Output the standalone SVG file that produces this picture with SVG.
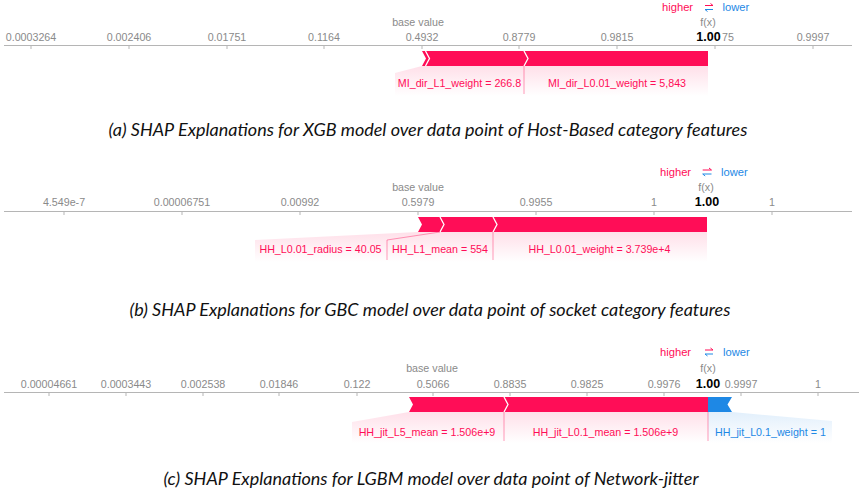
<svg xmlns="http://www.w3.org/2000/svg" width="859" height="494" viewBox="0 0 859 494">
<defs>
<linearGradient id="gr" x1="0" y1="0" x2="0" y2="1"><stop offset="0" stop-color="#ff0d57" stop-opacity="0.13"/><stop offset="1" stop-color="#ff0d57" stop-opacity="0"/></linearGradient>
<linearGradient id="gb" x1="0" y1="0" x2="0" y2="1"><stop offset="0" stop-color="#1e88e5" stop-opacity="0.13"/><stop offset="1" stop-color="#1e88e5" stop-opacity="0"/></linearGradient>
</defs>
<style>
text{font-family:"Liberation Sans",Arial,sans-serif}
.tk{font-size:10.7px;fill:#8a8a8a;text-anchor:middle}
.bv{font-size:10.7px;fill:#8a8a8a;text-anchor:middle}
.fx{font-size:12.5px;font-weight:bold;fill:#000;text-anchor:middle}
.hi{font-size:11.2px;fill:#ff0d57}
.lo{font-size:11.2px;fill:#1e88e5}
.ax{stroke:#b5b5b5;stroke-width:1;fill:none}
.red{fill:#ff0d57}
.blue{fill:#1e88e5}
.sep{stroke:#fff;stroke-width:1.3;fill:none}
.bgr{fill:url(#gr)}
.bgb{fill:url(#gb)}
.ln{stroke:#ff0d57;stroke-opacity:0.4;stroke-width:1;fill:none}
.lr{font-size:10.7px;fill:#ff0d57;text-anchor:middle}
.lb{font-size:10.7px;fill:#1e88e5;text-anchor:middle}
.ir{stroke:#ff0d57;stroke-width:1;fill:none}
.ib{stroke:#1e88e5;stroke-width:1;fill:none}
.cap{font-family:Lato,"Open Sans",sans-serif;font-style:italic;font-size:18px;fill:#111;text-anchor:middle}
</style>

<!-- Panel (a) -->
<g id="panel-a">
  <text class="hi" x="662" y="11">higher</text>
  <path class="ir" d="M705,5.5 H713 M710.5,3.5 L713,5.5"/>
  <path class="ib" d="M713,9.5 H705 M707.5,11.5 L705,9.5"/>
  <text class="lo" x="722.5" y="11">lower</text>
  <text class="bv" x="418" y="26">base value</text>
  <text class="bv" x="708" y="26">f(x)</text>
  <path class="ax" d="M4,45.5 H852 M31,45 V49 M129,45 V49 M227,45 V49 M324,45 V49 M422,45 V49 M519,45 V49 M617,45 V49 M715,45 V49 M813,45 V49"/>
  <text class="tk" x="31" y="41">0.0003264</text>
  <text class="tk" x="129" y="41">0.002406</text>
  <text class="tk" x="227" y="41">0.01751</text>
  <text class="tk" x="324" y="41">0.1164</text>
  <text class="tk" x="422" y="41">0.4932</text>
  <text class="tk" x="519" y="41">0.8779</text>
  <text class="tk" x="617" y="41">0.9815</text>
  <text class="tk" x="722" y="41" text-anchor="start" style="text-anchor:start">75</text>
  <text class="tk" x="813" y="41">0.9997</text>
  <text class="fx" x="708.5" y="40.7">1.00</text>
</g>
<g id="node-a1">
  <path class="bgr" d="M422,66 L524,66 L524,96 L395,96 L395,73 Z"/>
  <text class="lr" x="459.5" y="87">MI_dir_L1_weight = 266.8</text>
</g>
<g id="node-a2">
  <path class="bgr" d="M524,66 L708,66 L708,96 L524,96 Z"/>
  <text class="lr" x="617" y="87">MI_dir_L0.01_weight = 5,843</text>
</g>
<g id="bar-a">
  <path class="red" d="M422,51 L708,51 L708,66 L422,66 L426,58.5 Z"/>
  <path class="sep" d="M425.5,51 L429.5,58.5 L425.5,66 M524,51 L528,58.5 L524,66"/>
</g>

<!-- Panel (b) -->
<g id="panel-b">
  <text class="hi" x="660" y="176">higher</text>
  <path class="ir" d="M702.7,170 H711.5 M709,168 L711.5,170"/>
  <path class="ib" d="M711.5,174 H702.7 M705.2,176 L702.7,174"/>
  <text class="lo" x="721" y="176">lower</text>
  <text class="bv" x="418" y="191">base value</text>
  <text class="bv" x="706" y="191">f(x)</text>
  <path class="ax" d="M4,211.5 H852 M64,211 V215 M182,211 V215 M300,211 V215 M418,211 V215 M536,211 V215 M654,211 V215 M772,211 V215"/>
  <text class="tk" x="64" y="206">4.549e-7</text>
  <text class="tk" x="182" y="206">0.00006751</text>
  <text class="tk" x="300" y="206">0.00992</text>
  <text class="tk" x="418" y="206">0.5979</text>
  <text class="tk" x="536" y="206">0.9955</text>
  <text class="tk" x="654" y="206">1</text>
  <text class="tk" x="772" y="206">1</text>
  <text class="fx" x="707" y="206">1.00</text>
</g>
<g id="node-b1">
  <path class="bgr" d="M418,232 L440,232 L387,240 L387,262 L255,262 L255,240 Z"/>
  <text class="lr" x="320.5" y="253">HH_L0.01_radius = 40.05</text>
</g>
<g id="node-b2">
  <path class="bgr" d="M440,232 L493,232 L493,262 L387,262 L387,240 Z"/>
  <text class="lr" x="440" y="253">HH_L1_mean = 554</text>
</g>
<g id="node-b3">
  <path class="bgr" d="M493,232 L707,232 L707,262 L493,262 Z"/>
  <text class="lr" x="599.5" y="253">HH_L0.01_weight = 3.739e+4</text>
</g>
<g id="bar-b">
  <path class="red" d="M418,217 L707,217 L707,232 L418,232 L422,224.5 Z"/>
  <path class="sep" d="M440,217 L444,224.5 L440,232 M493,217 L497,224.5 L493,232"/>
</g>

<!-- Panel (c) -->
<g id="panel-c">
  <text class="hi" x="660" y="356">higher</text>
  <path class="ir" d="M705,350 H713 M710.5,348 L713,350"/>
  <path class="ib" d="M713,354 H705 M707.5,356 L705,354"/>
  <text class="lo" x="723" y="356">lower</text>
  <text class="bv" x="432" y="371.5">base value</text>
  <text class="bv" x="708" y="371.5">f(x)</text>
  <path class="ax" d="M4,392.5 H859 M49,392 V396 M126,392 V396 M203,392 V396 M279,392 V396 M357,392 V396 M433,392 V396 M510,392 V396 M587,392 V396 M664,392 V396 M741,392 V396 M818,392 V396"/>
  <text class="tk" x="49" y="387.5">0.00004661</text>
  <text class="tk" x="126" y="387.5">0.0003443</text>
  <text class="tk" x="203" y="387.5">0.002538</text>
  <text class="tk" x="279" y="387.5">0.01846</text>
  <text class="tk" x="357" y="387.5">0.122</text>
  <text class="tk" x="433" y="387.5">0.5066</text>
  <text class="tk" x="510" y="387.5">0.8835</text>
  <text class="tk" x="587" y="387.5">0.9825</text>
  <text class="tk" x="664" y="387.5">0.9976</text>
  <text class="tk" x="741" y="387.5">0.9997</text>
  <text class="tk" x="818" y="387.5">1</text>
  <text class="fx" x="708" y="387.5">1.00</text>
</g>
<g id="node-c1">
  <path class="bgr" d="M409,412 L504,412 L504,443 L352,443 L352,422 Z"/>
  <text class="lr" x="427" y="436">HH_jit_L5_mean = 1.506e+9</text>
</g>
<g id="node-c2">
  <path class="bgr" d="M504,412 L708,412 L708,443 L504,443 Z"/>
  <text class="lr" x="605.5" y="436">HH_jit_L0.1_mean = 1.506e+9</text>
</g>
<g id="node-c3">
  <path class="bgb" d="M708,412 L732,412 L832,421 L832,443 L708,443 Z"/>
  <text class="lb" x="770.5" y="436">HH_jit_L0.1_weight = 1</text>
</g>
<g id="bar-c">
  <path class="red" d="M409,397 L708,397 L708,412 L409,412 L413,404.5 Z"/>
  <path class="blue" d="M708,397 L732,397 L727.5,404.5 L732,412 L708,412 Z"/>
  <path class="sep" d="M504,397 L508,404.5 L504,412"/>
</g>

<g id="connectors">
  <path class="ln" d="M524,66 V94"/>
  <path class="ln" d="M440,232 L387,240 V260 M493,232 V260"/>
  <path class="ln" d="M504,412 V441 M708,412 V441"/>
</g>

<g id="captions">
  <text class="cap" x="428" y="136">(a) SHAP Explanations for XGB model over data point of Host-Based category features</text>
  <text class="cap" x="430" y="316">(b) SHAP Explanations for GBC model over data point of socket category features</text>
  <text class="cap" x="431" y="485">(c) SHAP Explanations for LGBM model over data point of Network-jitter</text>
</g>
</svg>
